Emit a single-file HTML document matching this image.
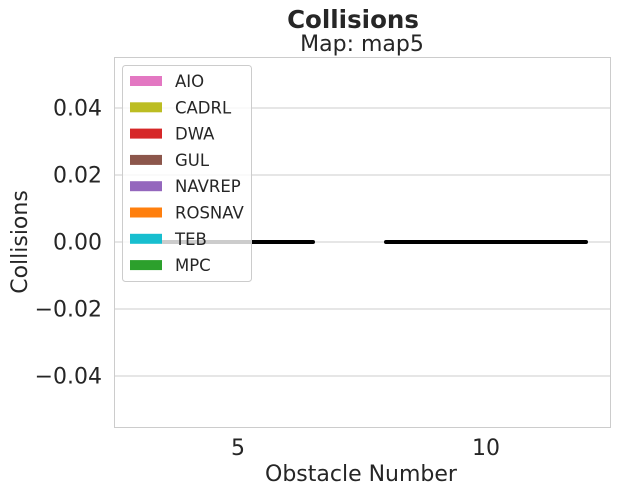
<!DOCTYPE html>
<html><head><meta charset="utf-8"><style>
body{margin:0;background:#fff;font-family:"Liberation Sans","DejaVu Sans",sans-serif;}
svg text{font-family:"DejaVu Sans","Liberation Sans",sans-serif;fill:#262626;}
</style></head><body>
<svg id="chart" width="619" height="492">
<rect width="619" height="492" fill="#fff"/>
<text x="353" y="28" text-anchor="middle" font-size="24.5" font-weight="bold">Collisions</text>
<text x="362" y="51" text-anchor="middle" font-size="22">Map: map5</text>
<g id="grid"></g>
<rect x="114.5" y="57.5" width="496" height="370" fill="none" stroke="#cccccc"/>
<g id="bars"></g>
<g id="yticks"></g>
<g id="xticks"></g>
<text x="361" y="481" text-anchor="middle" font-size="22">Obstacle Number</text>
<text transform="translate(27,242) rotate(-90)" text-anchor="middle" font-size="22">Collisions</text>
<g id="legend"></g>
</svg>
<script>
const categories = [5, 10];
const seriesNames = ["AIO","CADRL","DWA","GUL","NAVREP","ROSNAV","TEB","MPC"];
const seriesColors = ["#e377c2","#bcbd22","#d62728","#8c564b","#9467bd","#ff7f0e","#17becf","#2ca02c"];
const valuesCat5 = [0, 0, 0, 0, null, 0, 0, null];
const valuesCat10 = [0, 0, 0, 0, 0, 0, 0, 0];
const yTicks = [0.04, 0.02, 0.00, -0.02, -0.04];
const yTickLabels = ["0.04","0.02","0.00","\u22120.02","\u22120.04"];

const L=114, R=610, T=57, B=427, yMin=-0.0552, yMax=0.0552;
const ns="http://www.w3.org/2000/svg";
const y = v => T + (yMax - v) / (yMax - yMin) * (B - T);
const band = (R - L) / categories.length;
const x = i => L + band * (i + 0.5);
const barW = 25;
function mk(tag, attrs, parent){const e=document.createElementNS(ns,tag);for(const k in attrs)e.setAttribute(k,attrs[k]);parent.appendChild(e);return e;}

const grid=document.getElementById('grid'), yt=document.getElementById('yticks');
yTicks.forEach((t,i)=>{
  const g=mk('line',{x1:L,x2:R,y1:y(t),y2:y(t),stroke:'#cccccc','stroke-width':1},grid);
  
  
  const tx=mk('text',{x:102,y:y(t)+7.5,'text-anchor':'end','font-size':22},yt);
  tx.textContent=yTickLabels[i];
  
  
});
const xt=document.getElementById('xticks');
categories.forEach((c,i)=>{
  const tx=mk('text',{x:x(i),y:455,'text-anchor':'middle','font-size':22},xt);
  tx.textContent=c;
  
  
});
const bars=document.getElementById('bars');
[valuesCat5, valuesCat10].forEach((vals,ci)=>{
  const present=vals.map((v,si)=>[v,si]).filter(p=>p[0]!==null);
  const start=x(ci)-present.length*barW/2;
  present.forEach(([v,si],k)=>{
    const x0=start+k*barW;
    const r=mk('rect',{x:x0,y:Math.min(y(v),y(0)),width:barW,height:Math.abs(y(v)-y(0)),fill:seriesColors[si]},bars);
    
    
    const l=mk('line',{x1:x0,x2:x0+barW,y1:y(v),y2:y(v),stroke:'#000','stroke-width':4,'stroke-linecap':'round'},bars);
    
    
  });
});
const lg=document.getElementById('legend');
const box=mk('rect',{x:122.5,y:65.5,width:129,height:216,rx:3,fill:'#fff','fill-opacity':0.8,stroke:'#cccccc'},lg);


seriesNames.forEach((n,i)=>{
  const yy=81+i*26.3;
  const sw=mk('rect',{x:130,y:yy-5,width:32,height:10,fill:seriesColors[i]},lg);
  
  
  const t=mk('text',{x:175,y:yy+6,'font-size':16.5},lg);
  t.textContent=n;
  
  
});
</script>
</body></html>
